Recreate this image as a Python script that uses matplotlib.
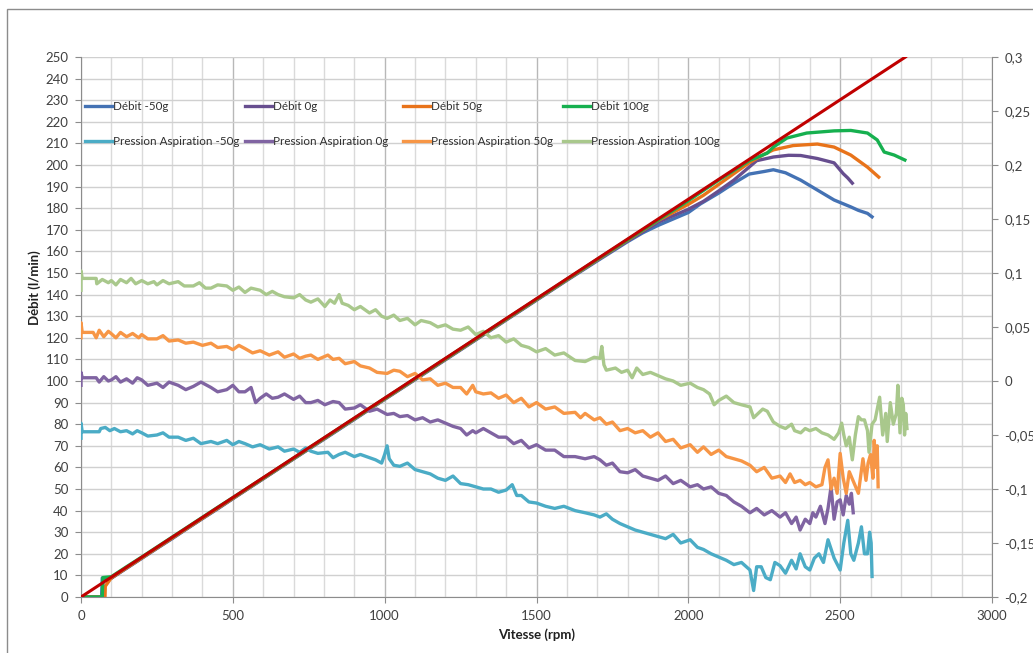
import matplotlib
matplotlib.use("Agg")
import matplotlib.pyplot as plt
from matplotlib.ticker import MultipleLocator, FuncFormatter
from matplotlib.patches import Rectangle

plt.rcParams['font.family'] = ['Lato', 'DejaVu Sans']

# ---------------- data ----------------
# Débit (l/min) vs Vitesse (rpm)
deb_m50_x = [0, 68, 70, 100, 150, 200, 250, 300, 350, 400, 450, 500, 600, 700, 800, 900, 1000, 1100, 1200,
             1300, 1400, 1500, 1600, 1700, 1800, 1850, 1900, 1950, 2000, 2040, 2100, 2150, 2200, 2250, 2280,
             2320, 2370, 2425, 2480, 2535, 2560, 2590, 2605]
deb_m50_y = [0, 0, 8.8, 8.8, 13.3, 17.9, 22.5, 27.0, 31.7, 36.3, 40.8, 45.5, 54.7, 63.9, 73.0, 82.2, 91.5,
             100.6, 109.8, 119.0, 128.2, 137.4, 146.6, 155.6, 164.5, 168.6, 172.0, 175.0, 178.0, 182.0, 187.0,
             191.6, 195.8, 197.0, 197.8, 196.4, 193.0, 188.4, 183.8, 180.6, 179.0, 177.6, 176.0]

deb_0_x = [0, 70, 72, 100, 150, 200, 250, 300, 350, 400, 450, 500, 600, 700, 800, 900, 1000, 1100, 1200, 1300,
           1400, 1500, 1600, 1700, 1800, 1900, 1950, 2000, 2050, 2100, 2150, 2200, 2225, 2280, 2330, 2370, 2425,
           2480, 2510, 2525, 2540]
deb_0_y = [0, 0, 7.5, 8.7, 13.4, 18.0, 22.6, 27.2, 31.8, 36.4, 41.0, 45.6, 54.8, 64.0, 73.2, 82.4, 91.6, 100.8,
           110.0, 119.2, 128.4, 137.6, 146.8, 155.9, 164.9, 173.5, 176.5, 179.5, 183.2, 188.0, 193.0, 199.0,
           202.0, 203.7, 204.5, 204.4, 203.0, 201.0, 196.0, 194.0, 191.6]

deb_50_x = [0, 79, 80, 100, 150, 200, 250, 300, 350, 400, 450, 500, 600, 700, 800, 900, 1000, 1100, 1200, 1300,
            1400, 1500, 1600, 1700, 1800, 1900, 2000, 2050, 2100, 2150, 2200, 2250, 2280, 2345, 2425, 2480, 2535,
            2590, 2627]
deb_50_y = [0, 0, 5, 8.9, 13.5, 18.1, 22.7, 27.3, 31.9, 36.5, 41.1, 45.7, 54.9, 64.1, 73.3, 82.5, 91.7, 100.9,
            110.1, 119.3, 128.5, 137.7, 146.9, 156.1, 165.2, 174.3, 181.8, 186.0, 191.0, 196.0, 201.0, 205.0,
            207.0, 209.0, 209.7, 208.3, 204.6, 199.0, 194.4]

deb_100_x = [0, 70, 72, 100, 150, 200, 250, 300, 350, 400, 450, 500, 600, 700, 800, 900, 1000, 1100, 1200, 1300,
             1400, 1500, 1600, 1700, 1800, 1900, 2000, 2100, 2200, 2260, 2280, 2325, 2390, 2480, 2535, 2590, 2622,
             2645, 2678, 2713]
deb_100_y = [0, 0, 9.0, 9.4, 14.0, 18.5, 23.1, 27.7, 32.3, 36.9, 41.5, 46.0, 55.1, 64.3, 73.5, 82.7, 91.9, 101.1,
             110.3, 119.5, 128.7, 137.9, 147.1, 156.3, 165.4, 174.5, 183.5, 193.0, 202.0, 205.5, 208.3, 212.5,
             214.8, 215.8, 216.0, 214.8, 211.6, 206.0, 204.6, 202.3]

# theoretical line (l/min)
theo_x = [0, 2715]
theo_y = [0, 250]

# Pression Aspiration (bar) vs Vitesse (rpm) : (rpm, bar)
pa_m50 = [(0, -0.053), (0, -0.039), (4, -0.047), (60, -0.047), (65, -0.044), (80, -0.043), (95, -0.046),
          (110, -0.044), (130, -0.047), (150, -0.046), (170, -0.049), (185, -0.046), (200, -0.048), (220, -0.051),
          (250, -0.050), (270, -0.048), (290, -0.052), (320, -0.052), (345, -0.055), (370, -0.053), (395, -0.058),
          (428, -0.056), (450, -0.058), (480, -0.055), (500, -0.059), (520, -0.056), (540, -0.058), (565, -0.061),
          (590, -0.059), (620, -0.063), (649, -0.061), (670, -0.065), (700, -0.063), (720, -0.066), (740, -0.062),
          (757, -0.065), (780, -0.067), (813, -0.066), (830, -0.071), (850, -0.068), (870, -0.066), (900, -0.070),
          (920, -0.068), (950, -0.071), (970, -0.073), (990, -0.076), (1000, -0.068), (1008, -0.060),
          (1015, -0.072), (1030, -0.078), (1050, -0.079), (1075, -0.076), (1100, -0.082), (1125, -0.084),
          (1150, -0.086), (1175, -0.090), (1200, -0.092), (1225, -0.088), (1250, -0.095), (1275, -0.096),
          (1300, -0.098), (1325, -0.100), (1350, -0.100), (1375, -0.103), (1400, -0.101), (1420, -0.096),
          (1435, -0.106), (1450, -0.106), (1475, -0.112), (1500, -0.113), (1530, -0.116), (1560, -0.118),
          (1590, -0.116), (1627, -0.120), (1660, -0.122), (1690, -0.124), (1709, -0.126), (1730, -0.123),
          (1750, -0.128), (1775, -0.132), (1800, -0.135), (1825, -0.138), (1850, -0.140), (1875, -0.142),
          (1900, -0.144), (1925, -0.146), (1950, -0.142), (1975, -0.150), (2006, -0.147), (2030, -0.154),
          (2050, -0.156), (2075, -0.160), (2100, -0.163), (2125, -0.166), (2150, -0.170), (2175, -0.168),
          (2203, -0.175), (2215, -0.194), (2225, -0.172), (2240, -0.172), (2255, -0.182), (2270, -0.184),
          (2285, -0.168), (2302, -0.171), (2320, -0.178), (2340, -0.166), (2355, -0.174), (2368, -0.160),
          (2385, -0.172), (2400, -0.175), (2415, -0.164), (2430, -0.160), (2445, -0.168), (2460, -0.147),
          (2480, -0.164), (2500, -0.175), (2512, -0.150), (2525, -0.129), (2535, -0.160), (2545, -0.166),
          (2560, -0.150), (2570, -0.135), (2580, -0.160), (2590, -0.160), (2597, -0.140), (2602, -0.150),
          (2605, -0.181)]

pa_0 = [(0, -0.004), (0, 0.008), (4, 0.003), (50, 0.003), (60, -0.001), (75, 0.004), (90, 0.000), (100, 0.001),
        (115, 0.004), (130, -0.001), (150, 0.002), (170, -0.002), (185, 0.003), (200, 0.001), (220, -0.004),
        (250, -0.002), (270, -0.006), (290, -0.001), (320, -0.004), (345, -0.008), (370, -0.005), (395, -0.001),
        (428, -0.006), (450, -0.010), (480, -0.008), (500, -0.004), (520, -0.010), (540, -0.010), (560, -0.006),
        (575, -0.020), (590, -0.016), (610, -0.012), (630, -0.016), (649, -0.015), (670, -0.012), (700, -0.017),
        (720, -0.014), (740, -0.020), (757, -0.020), (780, -0.018), (803, -0.022), (830, -0.019), (850, -0.020),
        (870, -0.026), (900, -0.025), (920, -0.022), (950, -0.028), (975, -0.026), (1008, -0.031), (1030, -0.030),
        (1050, -0.033), (1075, -0.032), (1100, -0.036), (1125, -0.034), (1150, -0.038), (1175, -0.036),
        (1200, -0.039), (1225, -0.042), (1250, -0.044), (1270, -0.050), (1290, -0.046), (1300, -0.048),
        (1325, -0.044), (1350, -0.048), (1375, -0.052), (1400, -0.052), (1425, -0.058), (1450, -0.055),
        (1475, -0.062), (1500, -0.059), (1530, -0.064), (1560, -0.064), (1590, -0.070), (1627, -0.070),
        (1660, -0.072), (1690, -0.070), (1709, -0.073), (1730, -0.078), (1750, -0.076), (1775, -0.084),
        (1800, -0.085), (1825, -0.082), (1850, -0.088), (1875, -0.090), (1900, -0.092), (1925, -0.088),
        (1950, -0.095), (1975, -0.092), (2006, -0.098), (2030, -0.096), (2050, -0.100), (2075, -0.098),
        (2100, -0.104), (2125, -0.106), (2150, -0.112), (2175, -0.116), (2203, -0.122), (2225, -0.118),
        (2250, -0.124), (2275, -0.120), (2302, -0.126), (2320, -0.122), (2340, -0.132), (2355, -0.126),
        (2368, -0.138), (2385, -0.128), (2400, -0.132), (2410, -0.122), (2420, -0.126), (2435, -0.116),
        (2450, -0.132), (2460, -0.118), (2470, -0.098), (2480, -0.128), (2490, -0.112), (2500, -0.110),
        (2510, -0.124), (2520, -0.106), (2530, -0.114), (2537, -0.104), (2543, -0.122)]

pa_50 = [(0, 0.040), (0, 0.054), (4, 0.045), (40, 0.045), (50, 0.040), (60, 0.047), (75, 0.041), (90, 0.046),
         (99, 0.044), (115, 0.040), (130, 0.045), (150, 0.041), (170, 0.044), (190, 0.040), (200, 0.043),
         (220, 0.039), (250, 0.039), (270, 0.042), (290, 0.037), (320, 0.038), (345, 0.035), (370, 0.036),
         (400, 0.033), (428, 0.035), (450, 0.031), (480, 0.032), (500, 0.029), (520, 0.033), (540, 0.030),
         (565, 0.026), (590, 0.028), (620, 0.024), (649, 0.027), (670, 0.022), (700, 0.025), (720, 0.021),
         (740, 0.023), (757, 0.024), (780, 0.020), (813, 0.024), (830, 0.020), (850, 0.021), (870, 0.016),
         (900, 0.018), (920, 0.014), (950, 0.012), (975, 0.008), (1008, 0.007), (1030, 0.010), (1050, 0.009),
         (1075, 0.004), (1100, 0.007), (1125, 0.001), (1150, 0.002), (1175, -0.004), (1200, -0.002),
         (1225, -0.006), (1250, -0.006), (1270, -0.012), (1290, -0.004), (1300, -0.010), (1325, -0.012),
         (1350, -0.011), (1375, -0.016), (1400, -0.013), (1425, -0.020), (1450, -0.016), (1475, -0.024),
         (1500, -0.020), (1530, -0.026), (1560, -0.024), (1590, -0.030), (1627, -0.029), (1645, -0.034),
         (1660, -0.030), (1690, -0.036), (1709, -0.034), (1730, -0.040), (1750, -0.038), (1775, -0.046),
         (1800, -0.044), (1825, -0.048), (1850, -0.046), (1875, -0.052), (1900, -0.048), (1925, -0.056),
         (1950, -0.054), (1975, -0.062), (2006, -0.059), (2030, -0.066), (2050, -0.061), (2075, -0.068),
         (2100, -0.064), (2125, -0.070), (2150, -0.072), (2175, -0.074), (2203, -0.078), (2225, -0.084),
         (2250, -0.080), (2275, -0.090), (2302, -0.088), (2320, -0.094), (2335, -0.086), (2350, -0.094),
         (2368, -0.092), (2385, -0.096), (2400, -0.094), (2420, -0.098), (2440, -0.096), (2450, -0.080),
         (2460, -0.073), (2470, -0.100), (2480, -0.090), (2490, -0.104), (2500, -0.067), (2510, -0.090),
         (2520, -0.104), (2530, -0.084), (2545, -0.094), (2560, -0.104), (2575, -0.072), (2585, -0.092),
         (2592, -0.076), (2600, -0.068), (2608, -0.090), (2612, -0.055), (2618, -0.080), (2622, -0.060),
         (2625, -0.098)]

pa_100 = [(0, 0.084), (0, 0.102), (4, 0.095), (50, 0.095), (52, 0.090), (70, 0.094), (90, 0.091), (100, 0.093),
          (115, 0.089), (130, 0.094), (150, 0.091), (165, 0.095), (180, 0.090), (200, 0.093), (220, 0.090),
          (240, 0.092), (250, 0.089), (270, 0.093), (290, 0.090), (320, 0.092), (340, 0.088), (370, 0.088),
          (390, 0.091), (410, 0.086), (428, 0.086), (450, 0.089), (480, 0.088), (500, 0.084), (520, 0.087),
          (540, 0.082), (560, 0.086), (590, 0.084), (610, 0.080), (630, 0.083), (649, 0.080), (670, 0.078),
          (700, 0.077), (720, 0.080), (740, 0.075), (757, 0.073), (780, 0.076), (803, 0.069), (820, 0.075),
          (835, 0.072), (850, 0.080), (860, 0.072), (880, 0.070), (900, 0.066), (920, 0.069), (950, 0.063),
          (970, 0.066), (990, 0.060), (1008, 0.058), (1030, 0.061), (1050, 0.056), (1075, 0.058), (1100, 0.052),
          (1120, 0.056), (1150, 0.054), (1175, 0.050), (1200, 0.052), (1225, 0.048), (1250, 0.047), (1275, 0.050),
          (1300, 0.043), (1325, 0.046), (1350, 0.040), (1375, 0.042), (1400, 0.036), (1425, 0.039), (1450, 0.033),
          (1475, 0.031), (1500, 0.027), (1530, 0.030), (1560, 0.024), (1590, 0.026), (1627, 0.019), (1660, 0.018),
          (1690, 0.022), (1709, 0.021), (1715, 0.032), (1722, 0.015), (1730, 0.010), (1760, 0.012), (1780, 0.008),
          (1800, 0.010), (1815, 0.003), (1830, 0.012), (1850, 0.006), (1875, 0.008), (1900, 0.005), (1925, 0.002),
          (1950, 0.000), (1975, -0.004), (2006, -0.002), (2030, -0.006), (2050, -0.008), (2070, -0.012),
          (2085, -0.022), (2100, -0.018), (2125, -0.014), (2150, -0.020), (2175, -0.022), (2203, -0.024),
          (2215, -0.034), (2230, -0.030), (2245, -0.026), (2260, -0.028), (2280, -0.038), (2302, -0.042),
          (2320, -0.044), (2340, -0.040), (2350, -0.046), (2370, -0.048), (2385, -0.044), (2400, -0.046),
          (2420, -0.044), (2440, -0.048), (2460, -0.050), (2480, -0.054), (2495, -0.048), (2505, -0.039),
          (2512, -0.050), (2520, -0.060), (2530, -0.052), (2540, -0.073), (2550, -0.050), (2560, -0.033),
          (2570, -0.036), (2580, -0.036), (2590, -0.046), (2595, -0.066), (2605, -0.040), (2615, -0.036),
          (2630, -0.015), (2640, -0.050), (2650, -0.030), (2655, -0.056), (2665, -0.020), (2675, -0.040),
          (2685, -0.030), (2690, -0.004), (2697, -0.048), (2703, -0.016), (2708, -0.022), (2712, -0.050),
          (2716, -0.030), (2720, -0.044)]

labels_debit = ['Débit -50g', 'Débit 0g', 'Débit 50g', 'Débit 100g']
labels_press = ['Pression Aspiration -50g', 'Pression Aspiration 0g',
                'Pression Aspiration 50g', 'Pression Aspiration 100g']

col_debit = ['#4472B4', '#674E8F', '#E8731A', '#16B04F']
col_press = ['#4BACC6', '#8064A2', '#F79646', '#A9C88C']
col_theo = '#C00000'

# ---------------- figure ----------------
W, H = 1033, 653
fig = plt.figure(figsize=(W / 100, H / 100), dpi=100)
L, R, T, B = 81, 992, 57, 597
ax = fig.add_axes([L / W, 1 - B / H, (R - L) / W, (B - T) / H])
ax2 = ax.twinx()

ax.set_xlim(0, 3000)
ax.set_ylim(0, 250)
ax2.set_ylim(-0.2, 0.3)

ax.xaxis.set_major_locator(MultipleLocator(500))
ax.xaxis.set_minor_locator(MultipleLocator(100))
ax.yaxis.set_major_locator(MultipleLocator(10))
ax2.yaxis.set_major_locator(MultipleLocator(0.05))


def fr(v, pos):
    v = round(v, 3)
    if abs(v) < 1e-9:
        return '0'
    return ('%g' % v).replace('.', ',')


ax2.yaxis.set_major_formatter(FuncFormatter(fr))

ax.set_axisbelow(True)
ax.grid(which='major', axis='x', color='#B8B8B8', lw=1.0)
ax.grid(which='minor', axis='x', color='#DADADA', lw=1.0)
ax.grid(which='major', axis='y', color='#D0D0D0', lw=1.0)

spc = '#8C8C8C'
ax.spines['top'].set_visible(False)
ax2.spines['top'].set_visible(False)
ax.spines['right'].set_visible(False)
ax2.spines['left'].set_visible(False)
ax2.spines['bottom'].set_visible(False)
ax.spines['left'].set_color(spc)
ax.spines['bottom'].set_color(spc)
ax2.spines['right'].set_color(spc)

tfs = 9.5
tc = '#404040'
ax.tick_params(axis='both', which='major', direction='out', length=4, color=spc,
               labelsize=tfs, labelcolor=tc, pad=5)
ax.tick_params(axis='x', which='minor', length=0)
ax2.tick_params(axis='y', direction='out', length=4, color=spc, labelsize=tfs, labelcolor=tc, pad=5)

ax.set_ylabel('Débit (l/min)', fontsize=tfs, fontweight='bold', color='#202020', va='center')
ax.yaxis.set_label_coords(-(L - 35) / (R - L), (B - 288) / (B - T))
ax.set_xlabel('Vitesse (rpm)', fontsize=tfs, fontweight='bold', color='#202020', va='center')
ax.xaxis.set_label_coords(0.5, -(635 - B) / (B - T))

lw = 2.4
debits = [(deb_m50_x, deb_m50_y), (deb_0_x, deb_0_y), (deb_50_x, deb_50_y), (deb_100_x, deb_100_y)]
press = [pa_m50, pa_0, pa_50, pa_100]

hd, hp = [], []
for (xs, ys), c, lab in zip(debits, col_debit, labels_debit):
    h, = ax.plot(xs, ys, color=c, lw=lw, label=lab, solid_joinstyle='round')
    hd.append(h)
for pts, c, lab in zip(press, col_press, labels_press):
    xs = [p[0] for p in pts]
    ys = [p[1] for p in pts]
    h, = ax2.plot(xs, ys, color=c, lw=lw, label=lab, solid_joinstyle='round')
    hp.append(h)

# theoretical line drawn on top (primary scale)
ax2.plot(theo_x, theo_y, color=col_theo, lw=2.2, transform=ax.transData, zorder=5)

# legends: 4 columns x 2 rows
lfs = 8.4
col_px = [85, 245, 403, 563]
for i in range(4):
    fig.legend([hd[i], hp[i]], [labels_debit[i], labels_press[i]], loc='upper left',
               bbox_to_anchor=(col_px[i] / W, 1 - 101 / H), bbox_transform=fig.transFigure,
               frameon=False, borderpad=0, borderaxespad=0, handlelength=2.3, handletextpad=0.1,
               labelspacing=2.05, fontsize=lfs, labelcolor='#303030')

# chart-area border
fig.patches.append(Rectangle((7 / W, -0.2), 2.0, 1.2 - 9 / H, transform=fig.transFigure,
                             fill=False, edgecolor='#8C8C8C', lw=1.0))

fig.savefig('out.png', dpi=100)
